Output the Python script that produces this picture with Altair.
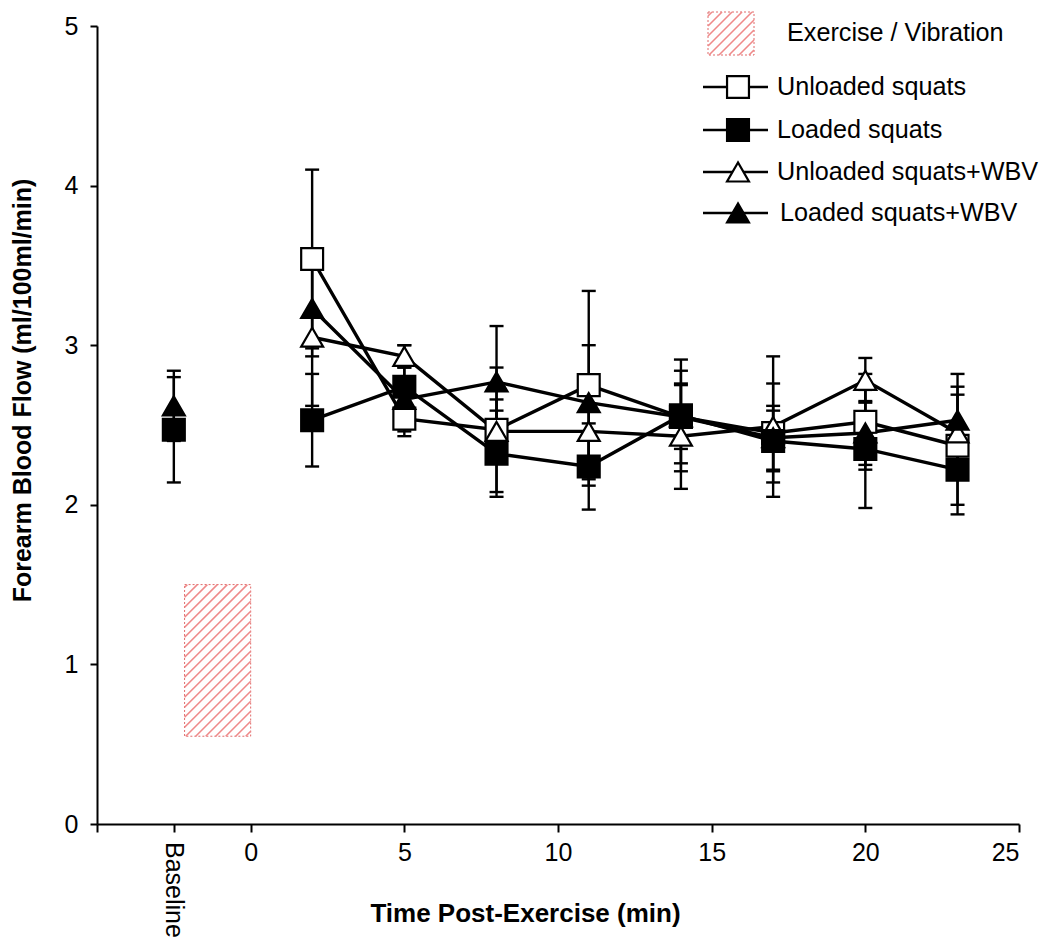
import altair as alt
import numpy as np
import pandas as pd

# ---- data -------------------------------------------------------------
series = ["Unloaded squats", "Loaded squats", "Unloaded squats+WBV", "Loaded squats+WBV"]
times = [2, 5, 8, 11, 14, 17, 20, 23]

unloaded = [3.54, 2.54, 2.47, 2.75, 2.55, 2.45, 2.52, 2.37]
unloaded_sd = [0.56, 0.11, 0.39, 0.59, 0.20, 0.31, 0.30, 0.37]
loaded = [2.53, 2.74, 2.32, 2.24, 2.56, 2.40, 2.35, 2.22]
loaded_sd = [0.29, 0.26, 0.27, 0.27, 0.35, 0.19, 0.37, 0.28]
unloaded_wbv = [3.05, 2.93, 2.46, 2.46, 2.43, 2.49, 2.78, 2.45]
unloaded_wbv_sd = [0.43, 0.07, 0.20, 0.34, 0.33, 0.44, 0.14, 0.24]
loaded_wbv = [3.23, 2.66, 2.77, 2.64, 2.55, 2.42, 2.45, 2.53]
loaded_wbv_sd = [0.30, 0.20, 0.35, 0.36, 0.29, 0.20, 0.20, 0.29]

baseline_pos = -2.5
baseline_series = ["Loaded squats", "Loaded squats+WBV"]
baseline_mean = [2.47, 2.62]
baseline_sd = [0.33, 0.22]

# exercise / vibration window
ex_start, ex_end = -2.15, 0.0
ex_low, ex_high = 0.55, 1.5

x_ticks = [-5, -2.5, 0, 5, 10, 15, 20, 25]
y_ticks = [0, 1, 2, 3, 4, 5]

# ---- layout -----------------------------------------------------------
W, H = 922, 798
X_DOM, Y_DOM = [-5, 25], [0, 5]
PX_X = W / (X_DOM[1] - X_DOM[0])
PX_Y = H / (Y_DOM[1] - Y_DOM[0])
FONT = "Liberation Sans"
HATCH = "#ef8a8a"
EDGE = "#e06a6a"
LABEL_SIZE = 25
KEY_SIZE = 25.2

shape_of = {"Unloaded squats": "square", "Loaded squats": "square",
            "Unloaded squats+WBV": "triangle-up", "Loaded squats+WBV": "triangle-up"}
fill_of = {"Unloaded squats": "white", "Loaded squats": "black",
           "Unloaded squats+WBV": "white", "Loaded squats+WBV": "black"}
draw_order = ["Unloaded squats", "Unloaded squats+WBV", "Loaded squats+WBV", "Loaded squats"]

means = {"Unloaded squats": (unloaded, unloaded_sd), "Loaded squats": (loaded, loaded_sd),
         "Unloaded squats+WBV": (unloaded_wbv, unloaded_wbv_sd),
         "Loaded squats+WBV": (loaded_wbv, loaded_wbv_sd)}

rows = []
for s in series:
    m, sd = means[s]
    for t, v, e in zip(times, m, sd):
        rows.append({"series": s, "t": t, "flow": v, "sd": e, "post": True})
for s, v, e in zip(baseline_series, baseline_mean, baseline_sd):
    rows.append({"series": s, "t": baseline_pos, "flow": v, "sd": e, "post": False})
df = pd.DataFrame(rows)
df["lo"] = df["flow"] - df["sd"]
df["hi"] = df["flow"] + df["sd"]
df["z"] = df["series"].map(draw_order.index)
df = df.sort_values("z").reset_index(drop=True)

caps = pd.concat([df.assign(cap=df["lo"]), df.assign(cap=df["hi"])])[["t", "cap"]]

x_scale = alt.Scale(domain=X_DOM, nice=False, zero=False)
y_scale = alt.Scale(domain=Y_DOM, nice=False)

x_axis = alt.Axis(values=x_ticks, labelExpr="datum.value >= 0 ? datum.label : ''",
                  title="Time Post-Exercise (min)", grid=False, domainColor="black",
                  domainWidth=2, tickColor="black", tickWidth=2, tickSize=8,
                  labelFont=FONT, labelFontSize=LABEL_SIZE, labelColor="black", labelPadding=8,
                  titleFont=FONT, titleFontSize=26, titleFontWeight="bold", titleColor="black",
                  titleX=428, titleY=89, titleBaseline="middle")
y_axis = alt.Axis(values=y_ticks, format="d", title="Forearm Blood Flow (ml/100ml/min)",
                  grid=False, domainColor="black", domainWidth=2, tickColor="black",
                  tickWidth=2, tickSize=7, labelFont=FONT, labelFontSize=LABEL_SIZE,
                  labelColor="black", labelPadding=12, titleFont=FONT, titleFontSize=25,
                  titleFontWeight="bold", titleColor="black", titleX=-75, titleY=364,
                  titleAngle=-90, titleBaseline="middle", titleAlign="center")

shape_scale = alt.Scale(domain=series, range=[shape_of[s] for s in series])
fill_scale = alt.Scale(domain=series, range=[fill_of[s] for s in series])


def hatch(w, h, step=10.0):
    """45-degree hatch segments inside a w x h box, as (u0, v0, u1, v1) with v upward."""
    segs = []
    for c in np.arange(-w + step / 2, h, step):
        u0, u1 = max(0.0, -c), min(w, h - c)
        if u1 > u0:
            segs.append((u0, u0 + c, u1, u1 + c))
    return segs


# ---- exercise window (hatched box in data space) ----------------------
ex_w = (ex_end - ex_start) * PX_X
ex_h = (ex_high - ex_low) * PX_Y
ex_hatch = pd.DataFrame(
    [{"x": ex_start + a / PX_X, "y": ex_low + b / PX_Y,
      "x2": ex_start + c / PX_X, "y2": ex_low + d / PX_Y} for a, b, c, d in hatch(ex_w, ex_h)])
ex_box = pd.DataFrame({"x": [ex_start], "x2": [ex_end], "y": [ex_low], "y2": [ex_high]})

box_layer = alt.Chart(ex_box).mark_rect(fill="white", fillOpacity=0, stroke=EDGE,
                                        strokeWidth=1, strokeDash=[2, 2]).encode(
    x=alt.X("x:Q", scale=x_scale, axis=x_axis), x2="x2:Q",
    y=alt.Y("y:Q", scale=y_scale, axis=y_axis), y2="y2:Q")
hatch_layer = alt.Chart(ex_hatch).mark_rule(color=HATCH, strokeWidth=1.6).encode(
    x=alt.X("x:Q", scale=x_scale), x2="x2:Q", y=alt.Y("y:Q", scale=y_scale), y2="y2:Q")

lines = alt.Chart(df[df["post"]]).mark_line(color="black", strokeWidth=3.4).encode(
    x=alt.X("t:Q", scale=x_scale), y=alt.Y("flow:Q", scale=y_scale),
    detail="series:N", order="t:Q")

bars = alt.Chart(df).mark_rule(color="black", strokeWidth=2.4).encode(
    x=alt.X("t:Q", scale=x_scale), y=alt.Y("lo:Q", scale=y_scale), y2="hi:Q")

cap_layer = alt.Chart(caps).mark_rule(color="black", strokeWidth=2.4, xOffset=-7,
                                      x2Offset=7).encode(
    x=alt.X("t:Q", scale=x_scale), x2="t:Q", y=alt.Y("cap:Q", scale=y_scale))

points = alt.Chart(df).mark_point(size=480, opacity=1, stroke="black", strokeWidth=2.2,
                                  filled=False).encode(
    x=alt.X("t:Q", scale=x_scale), y=alt.Y("flow:Q", scale=y_scale),
    shape=alt.Shape("series:N", scale=shape_scale, legend=None),
    fill=alt.Fill("series:N", scale=fill_scale, legend=None),
    order=alt.Order("z:Q"))

baseline_label = alt.Chart(pd.DataFrame({"t": [baseline_pos], "label": ["Baseline"]})).mark_text(
    angle=90, align="left", baseline="middle", font=FONT, fontSize=LABEL_SIZE,
    color="black").encode(
    x=alt.X("t:Q", scale=x_scale), y=alt.value(H + 18), text="label:N")

plot = alt.layer(box_layer, hatch_layer, lines, bars, cap_layer, points, baseline_label)

# ---- key (pixel space, relative to plot origin) -----------------------
kx0, ky0, kw, kh = 611, -14, 46, 43
key_hatch = pd.DataFrame(
    [{"x": kx0 + a, "y": ky0 + kh - b, "x2": kx0 + c, "y2": ky0 + kh - d}
     for a, b, c, d in hatch(kw, kh)])
key_box = pd.DataFrame({"x": [kx0], "x2": [kx0 + kw], "y": [ky0], "y2": [ky0 + kh]})

key_rows = pd.DataFrame({
    "series": series,
    "ly": [61, 104, 146, 187],
    "lx0": [606, 606, 606, 606],
    "lx1": [671, 671, 671, 671],
    "mx": [641, 641, 641, 641],
    "tx": [680, 680, 680, 683],
})

ident = dict(scale=None, axis=None)
key_box_layer = alt.Chart(key_box).mark_rect(fillOpacity=0, stroke=EDGE, strokeWidth=1,
                                             strokeDash=[2, 2]).encode(
    x=alt.X("x:Q", **ident), x2="x2:Q", y=alt.Y("y:Q", **ident), y2="y2:Q")
key_hatch_layer = alt.Chart(key_hatch).mark_rule(color=HATCH, strokeWidth=1.6).encode(
    x=alt.X("x:Q", **ident), x2="x2:Q", y=alt.Y("y:Q", **ident), y2="y2:Q")
key_title = alt.Chart(pd.DataFrame({"x": [690], "y": [7], "t": ["Exercise / Vibration"]})).mark_text(
    align="left", baseline="middle", font=FONT, fontSize=KEY_SIZE, color="black").encode(
    x=alt.X("x:Q", **ident), y=alt.Y("y:Q", **ident), text="t:N")
key_lines = alt.Chart(key_rows).mark_rule(color="black", strokeWidth=2.4).encode(
    x=alt.X("lx0:Q", **ident), x2="lx1:Q", y=alt.Y("ly:Q", **ident))
key_marks = alt.Chart(key_rows).mark_point(size=480, opacity=1, stroke="black",
                                           strokeWidth=2.2).encode(
    x=alt.X("mx:Q", **ident), y=alt.Y("ly:Q", **ident),
    shape=alt.Shape("series:N", scale=shape_scale, legend=None),
    fill=alt.Fill("series:N", scale=fill_scale, legend=None))
key_text = alt.Chart(key_rows).mark_text(align="left", baseline="middle", font=FONT,
                                         fontSize=KEY_SIZE, color="black").encode(
    x=alt.X("tx:Q", **ident), y=alt.Y("ly:Q", **ident), text="series:N")

key = alt.layer(key_box_layer, key_hatch_layer, key_title, key_lines, key_marks, key_text)

chart = alt.layer(plot, key).resolve_scale(x="independent", y="independent").properties(
    width=W, height=H,
    autosize=alt.AutoSizeParams(type="none"),
    padding={"left": 97, "top": 26, "right": 28, "bottom": 113},
    background="white",
).configure_view(stroke=None)

chart.save("out.html", embed_options={"renderer": "svg", "actions": False})
